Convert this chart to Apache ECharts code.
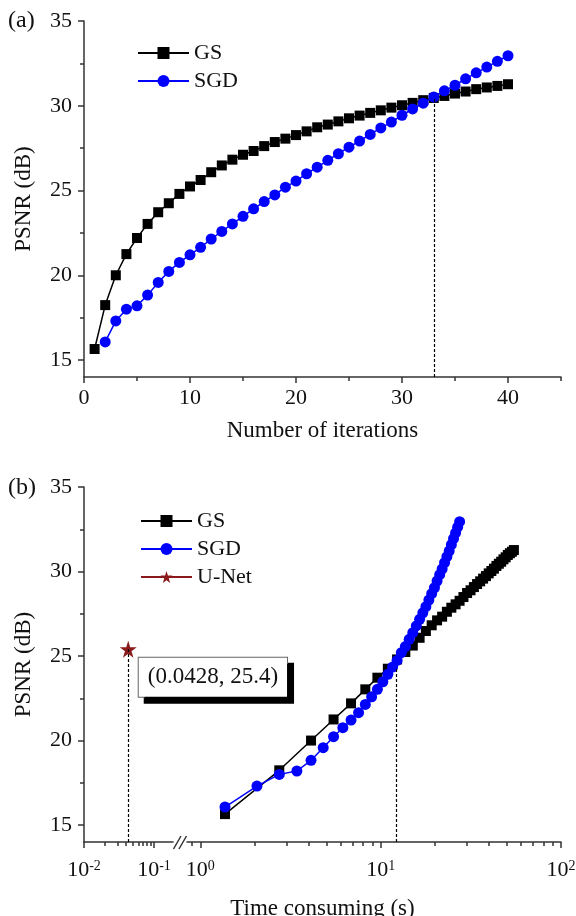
<!DOCTYPE html>
<html><head><meta charset="utf-8">
<script src="https://cdn.jsdelivr.net/npm/echarts@6/dist/echarts.min.js"></script>
<style>html,body{margin:0;padding:0;background:#fff}#c{width:576px;height:916px}</style>
</head><body><div id="c"></div>
<script>
// ---- data ----
const gsIter = [1,2,3,4,5,6,7,8,9,10,11,12,13,14,15,16,17,18,19,20,21,22,23,24,25,26,27,28,29,30,31,32,33,34,35,36,37,38,39,40];
const gsPsnr = [15.65,18.24,20.00,21.25,22.20,23.03,23.72,24.25,24.80,25.24,25.62,26.08,26.48,26.82,27.11,27.33,27.62,27.86,28.06,28.27,28.49,28.73,28.89,29.08,29.26,29.42,29.58,29.73,29.89,30.03,30.17,30.33,30.46,30.58,30.72,30.84,30.98,31.08,31.17,31.27];
const sgdIter = [2,3,4,5,6,7,8,9,10,11,12,13,14,15,16,17,18,19,20,21,22,23,24,25,26,27,28,29,30,31,32,33,34,35,36,37,38,39,40];
const sgdPsnr = [16.07,17.31,18.00,18.20,18.83,19.58,20.23,20.76,21.21,21.65,22.14,22.59,23.03,23.48,23.92,24.35,24.74,25.20,25.56,25.99,26.38,26.78,27.17,27.56,27.92,28.31,28.69,29.04,29.44,29.81,30.15,30.52,30.88,31.21,31.59,31.94,32.28,32.62,32.95];
const gsTime = [1.37,2.74,4.11,5.48,6.85,8.22,9.59,10.96,12.33,13.70,15.07,16.44,17.81,19.18,20.55,21.92,23.29,24.66,26.03,27.40,28.77,30.14,31.51,32.88,34.25,35.62,36.99,38.36,39.73,41.10,42.47,43.84,45.21,46.58,47.95,49.32,50.69,52.06,53.43,54.80];
const sgdTime = [1.37,2.06,2.74,3.43,4.11,4.80,5.48,6.17,6.85,7.54,8.22,8.91,9.59,10.28,10.96,11.65,12.33,13.02,13.70,14.39,15.07,15.76,16.44,17.13,17.81,18.50,19.18,19.87,20.55,21.24,21.92,22.61,23.29,23.98,24.66,25.35,26.03,26.72,27.40];
const unetTime = [0.0428];
const unetPsnr = [25.4];
const crossA = [33, 30.4];      // iteration, PSNR of dashed marker (a)
const crossB = [12.2, 24.3];    // time, PSNR of dashed marker (b)
const yTicks = [15,20,25,30,35];
const yMinorTicks = [17.5,22.5,27.5,32.5];
const iterTicks = [0,10,20,30,40];
const iterMinorTicks = [5,15,25,35,45];
const timeTicksLeft = [0.01,0.1];
const timeMinorLeft = [0.02,0.03,0.04,0.05,0.06,0.07,0.08,0.09];
const timeTicksRight = [1,10,100];
const timeMinorRight = [0.9,2,3,4,5,6,7,8,9,20,30,40,50,60,70,80,90];

// ---- helpers ----
const lg = Math.log10;
const FF = 'Liberation Serif';
const TC = '#111';
const AX = '#333';
const yMin = 14, yMax = 35;
const STAR = 'path://M50,0 L61.2,34.5 L97.6,34.5 L68.2,55.9 L79.4,90.5 L50,69.1 L20.6,90.5 L31.8,55.9 L2.4,34.5 L38.8,34.5 Z';
const txt = {fontSize:22, fontFamily:FF, color:TC};
const nameTxt = {fontSize:23, fontFamily:FF, color:TC};

// layout constants
const G_TOP = {left:84, top:21, width:477, height:356};
const G_BL = {left:84, top:487, width:89, height:355};
const G_BR = {left:187, top:487, width:374, height:355};
const G_BF = {left:84, top:487, width:477, height:355};

function tickAx(kind, grid, min, max, ticks, len, line, extra) {
  const o = {
    gridIndex:grid, type:'value', min:min, max:max,
    position: kind === 'x' ? 'bottom' : 'left',
    axisLine:{show:line, lineStyle:{color:AX, width:1.5}},
    axisTick:{show:true, length:len, lineStyle:{color:AX, width:1.5}, customValues:ticks},
    axisLabel:{show:false},
    splitLine:{show:false}
  };
  return Object.assign(o, extra || {});
}
const logLabel = (vals) => ({
  show:true, customValues:vals, margin:17, fontSize:22, fontFamily:FF, color:TC,
  formatter: v => '{b|10}{s|' + Math.round(v) + '}',
  rich:{ b:{fontSize:22, fontFamily:FF, color:TC, lineHeight:22},
         s:{fontSize:14, fontFamily:FF, color:TC, lineHeight:14, verticalAlign:'top'} }
});
const yName = {name:'PSNR (dB)', nameLocation:'middle', nameGap:49, nameTextStyle:nameTxt};

const xAxis = [
  tickAx('x',0,0,45,iterTicks,6,true,{axisLabel:Object.assign({show:true, customValues:iterTicks, margin:10}, txt),
     name:'Number of iterations', nameLocation:'middle', nameGap:42, nameTextStyle:nameTxt}),
  tickAx('x',0,0,45,iterMinorTicks,4,false),
  tickAx('x',1,lg(0.01),-0.729,timeTicksLeft.map(lg),6,true,{axisLabel:logLabel(timeTicksLeft.map(lg))}),
  tickAx('x',1,lg(0.01),-0.729,timeMinorLeft.map(lg),4,false),
  tickAx('x',2,-0.074,lg(100),timeTicksRight.map(lg),6,true,{axisLabel:logLabel(timeTicksRight.map(lg))}),
  tickAx('x',2,-0.074,lg(100),timeMinorRight.map(lg),4,false),
  {gridIndex:3, type:'value', min:0, max:1, position:'bottom', axisLine:{show:false}, axisTick:{show:false},
   axisLabel:{show:false}, splitLine:{show:false},
   name:'Time consuming (s)', nameLocation:'middle', nameGap:55, nameTextStyle:nameTxt}
];
const yAxis = [
  tickAx('y',0,yMin,yMax,yTicks,6,true,Object.assign({axisLabel:Object.assign({show:true, customValues:yTicks, margin:12}, txt)}, yName)),
  tickAx('y',0,yMin,yMax,yMinorTicks,4,false),
  tickAx('y',1,yMin,yMax,yTicks,6,true,Object.assign({axisLabel:Object.assign({show:true, customValues:yTicks, margin:12}, txt)}, yName)),
  tickAx('y',1,yMin,yMax,yMinorTicks,4,false),
  {gridIndex:2, type:'value', min:yMin, max:yMax, show:false},
  {gridIndex:3, type:'value', min:yMin, max:yMax, show:false}
];

const dashed = {color:'#000', width:1.2, type:[3,2]};
function mk(x1,y1,x2,y2){
  return {symbol:'none', silent:true, label:{show:false}, lineStyle:dashed,
          emphasis:{disabled:true}, data:[[{coord:[x1,y1]},{coord:[x2,y2]}]]};
}

const series = [
  {type:'line', name:'GS', xAxisIndex:0, yAxisIndex:0, data:gsIter.map((x,i)=>[x,gsPsnr[i]]),
   symbol:'rect', symbolSize:10, itemStyle:{color:'#000'}, lineStyle:{color:'#000', width:1.5},
   markLine: mk(crossA[0], yMin, crossA[0], crossA[1]), z:2},
  {type:'line', name:'SGD', xAxisIndex:0, yAxisIndex:0, data:sgdIter.map((x,i)=>[x,sgdPsnr[i]]),
   symbol:'circle', symbolSize:11, itemStyle:{color:'#0000ff'}, lineStyle:{color:'#0000ff', width:1.5}, z:3},
  {type:'line', name:'GS', xAxisIndex:4, yAxisIndex:4, data:gsTime.map((t,i)=>[lg(t),gsPsnr[i]]),
   symbol:'rect', symbolSize:10, itemStyle:{color:'#000'}, lineStyle:{color:'#000', width:1.5},
   markLine: mk(lg(crossB[0]), yMin, lg(crossB[0]), crossB[1]), z:2},
  {type:'line', name:'SGD', xAxisIndex:4, yAxisIndex:4, data:sgdTime.map((t,i)=>[lg(t),sgdPsnr[i]]),
   symbol:'circle', symbolSize:11, itemStyle:{color:'#0000ff'}, lineStyle:{color:'#0000ff', width:1.5}, z:3},
  {type:'line', name:'U-Net', xAxisIndex:2, yAxisIndex:2, data:unetTime.map((t,i)=>[lg(t),unetPsnr[i]]),
   symbol:STAR, symbolSize:17, itemStyle:{color:'#8b1a1a'}, lineStyle:{color:'#8b1a1a', width:1.5},
   markLine: mk(lg(unetTime[0]), yMin, lg(unetTime[0]), unetPsnr[0]), z:4,
   label:{show:true, position:'right', distance:2, offset:[0,28],
     formatter: () => '(' + unetTime[0] + ', ' + unetPsnr[0] + ')',
     fontSize:23, fontFamily:FF, color:TC, backgroundColor:'#fff', borderColor:'#666', borderWidth:1,
     padding:[8,9,8,9], shadowColor:'#000', shadowOffsetX:6, shadowOffsetY:6, shadowBlur:0}}
];

const legendBase = {orient:'vertical', itemWidth:51, itemHeight:15, itemGap:6, padding:0, itemTextGap:5,
  textStyle:{fontSize:22, fontFamily:FF, color:TC}};

const brkX0 = G_BL.left + G_BL.width, brkY = G_BL.top + G_BL.height;
const option = {
  animation:false,
  backgroundColor:'#fff',
  title:[
    {text:'(a)', left:8, top:9, padding:0, textStyle:{fontSize:24, fontFamily:FF, fontWeight:'normal', color:TC}},
    {text:'(b)', left:8, top:476, padding:0, textStyle:{fontSize:24, fontFamily:FF, fontWeight:'normal', color:TC}}
  ],
  legend:[
    Object.assign({data:['GS','SGD'], left:137, top:42}, legendBase),
    Object.assign({data:['GS','SGD','U-Net'], left:140, top:510}, legendBase)
  ],
  grid:[G_TOP, G_BL, G_BR, G_BF].map(g => Object.assign({containLabel:false, outerBoundsMode:'none'}, g)),
  xAxis:xAxis, yAxis:yAxis, series:series,
  graphic:[
    {type:'line', shape:{x1:brkX0+0.5, y1:brkY+7, x2:brkX0+8, y2:brkY-6}, style:{stroke:AX, lineWidth:1.5}},
    {type:'line', shape:{x1:brkX0+6, y1:brkY+7, x2:brkX0+13.5, y2:brkY-6}, style:{stroke:AX, lineWidth:1.5}}
  ]
};
const chart = echarts.init(document.getElementById('c'), null, {renderer:'canvas'});
chart.setOption(option);
</script></body></html>
